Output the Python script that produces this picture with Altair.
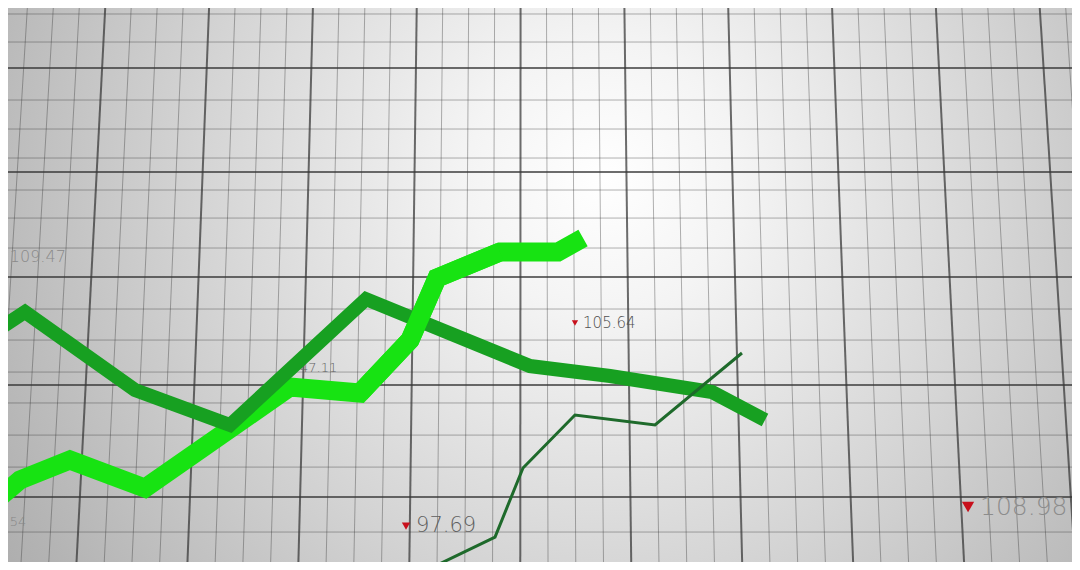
import altair as alt
import pandas as pd

# ---- data (time in grid columns, price in grid rows) ----
light_t = [-0.929, -0.651, -0.186, 0.511, 1.859, 2.509, 2.974, 3.225, 3.810, 4.349, 4.582]
light_p = [-0.075, 0.159, 0.346, 0.084, 1.028, 0.972, 1.467, 2.047, 2.290, 2.290, 2.421]

dark_t = [-0.929, -0.604, 0.418, 1.301, 2.565, 4.089, 4.833, 5.781, 6.273]
dark_p = [1.514, 1.729, 1.000, 0.673, 1.850, 1.224, 1.131, 0.981, 0.720]

thin_t = [2.323, 3.188, 3.764, 4.024, 4.507, 5.251, 6.059]
thin_p = [-0.664, -0.654, -0.374, 0.271, 0.766, 0.673, 1.346]

label_text = ["109.47", "47.11", "105.64", "97.69", "108.98", "54"]
label_t = [-0.745, 1.952, 4.582, 3.030, 8.271, -0.745]
label_p = [2.243, 1.206, 1.626, -0.271, -0.093, -0.234]
label_size = [16, 13, 15, 21, 25, 13]
label_color = ["#8a8a8a", "#626262", "#505050", "#5e5e5e", "#8c8c8c", "#878787"]

marker_t = [4.507, 2.937, 8.160]
marker_p = [1.626, -0.271, -0.093]
marker_size = [40, 70, 150]

major_cols = [-1, 0, 1, 2, 3, 4, 5, 6, 7, 8, 9, 10]
major_rows = [0.0, 1.047, 2.056, 3.037, 4.009]
minor_rows = [4.514, 4.252, 3.710, 3.439, 3.168, 2.869, 2.607, 2.327, 1.757,
              1.467, 1.168, 0.879, 0.579, 0.280, -0.327]

W, H = 1064, 554
xs = alt.Scale(domain=[-0.762, 9.126], nice=False, zero=False)
ys = alt.Scale(domain=[-0.607, 4.570], nice=False, zero=False)

# perspective fan of the vertical grid lines
minor_cols = [c + f for c in major_cols[:-1] for f in (0.25, 0.5, 0.75)]
def fan(cols):
    return pd.DataFrame({
        "k": cols,
        "top": [c + (c - 4.04) * (-0.035) for c in cols],
        "bot": [c + (c - 4.04) * 0.031 for c in cols],
    })

bg = alt.Chart(pd.DataFrame({"a": [0]})).mark_rect(
    fill=alt.RadialGradient(
        gradient="radial",
        stops=[alt.GradientStop(offset=0, color="#ffffff"),
               alt.GradientStop(offset=0.15, color="#f4f4f4"),
               alt.GradientStop(offset=0.45, color="#d4d4d4"),
               alt.GradientStop(offset=0.75, color="#b2b2b2"),
               alt.GradientStop(offset=1, color="#989898")],
        x1=0.56, y1=0.4, r1=0, x2=0.56, y2=0.4, r2=0.85),
    strokeWidth=0,
).encode(x=alt.value(0), x2=alt.value(W), y=alt.value(0), y2=alt.value(H))

GRID = "#353535"
vminor = alt.Chart(fan(minor_cols)).mark_rule(color=GRID, opacity=0.38, strokeWidth=1, clip=True).encode(
    x=alt.X("top:Q", scale=xs, axis=None), x2="bot:Q",
    y=alt.value(0), y2=alt.value(H))
vmajor = alt.Chart(fan(major_cols)).mark_rule(color=GRID, opacity=0.72, strokeWidth=2, clip=True).encode(
    x=alt.X("top:Q", scale=xs, axis=None), x2="bot:Q",
    y=alt.value(0), y2=alt.value(H))
hminor = alt.Chart(pd.DataFrame({"p": minor_rows})).mark_rule(color=GRID, opacity=0.38, strokeWidth=1, clip=True).encode(
    y=alt.Y("p:Q", scale=ys, axis=None))
hmajor = alt.Chart(pd.DataFrame({"p": major_rows})).mark_rule(color=GRID, opacity=0.72, strokeWidth=2, clip=True).encode(
    y=alt.Y("p:Q", scale=ys, axis=None))

labels = pd.DataFrame({"t": label_t, "p": label_p, "text": label_text,
                       "size": label_size, "color": label_color})
texts = []
for _, r in labels.iterrows():
    texts.append(
        alt.Chart(labels[labels.text == r.text]).mark_text(
            font="DejaVu Sans", fontWeight=200, fontSize=int(r["size"]), color=r["color"],
            align="left", baseline="middle", clip=True
        ).encode(x=alt.X("t:Q", scale=xs, axis=None), y=alt.Y("p:Q", scale=ys, axis=None), text="text:N")
    )

markers = alt.Chart(pd.DataFrame({"t": marker_t, "p": marker_p, "s": marker_size})).mark_point(
    shape="triangle-down", filled=True, color="#c8101c", opacity=1, clip=True
).encode(x=alt.X("t:Q", scale=xs, axis=None), y=alt.Y("p:Q", scale=ys, axis=None),
         size=alt.Size("s:Q", scale=None, legend=None))

light_df = pd.DataFrame({"t": light_t, "p": light_p, "o": list(range(len(light_t)))})
dark_df = pd.DataFrame({"t": dark_t, "p": dark_p, "o": list(range(len(dark_t)))})
thin_df = pd.DataFrame({"t": thin_t, "p": thin_p, "o": list(range(len(thin_t)))})

def line(df, color, width):
    return alt.Chart(df).mark_line(color=color, strokeWidth=width, strokeJoin="miter",
                                   strokeCap="butt", clip=True).encode(
        x=alt.X("t:Q", scale=xs, axis=None), y=alt.Y("p:Q", scale=ys, axis=None), order="o:Q")

light = line(light_df, "#17e312", 19)
dark = line(dark_df, "#17a021", 14)
light_top = line(light_df[(light_df.t > 2.4) & (light_df.t < 3.9)], "#17e312", 19)
thin = line(thin_df, "#1e6a2b", 3)

chart = alt.layer(bg, vminor, hminor, vmajor, hmajor, *texts, markers,
                  light, dark, light_top, thin).properties(
    width=W, height=H, padding=0
).configure_view(stroke=None)

chart.save("out.html", embed_options={"renderer": "svg", "actions": False})
